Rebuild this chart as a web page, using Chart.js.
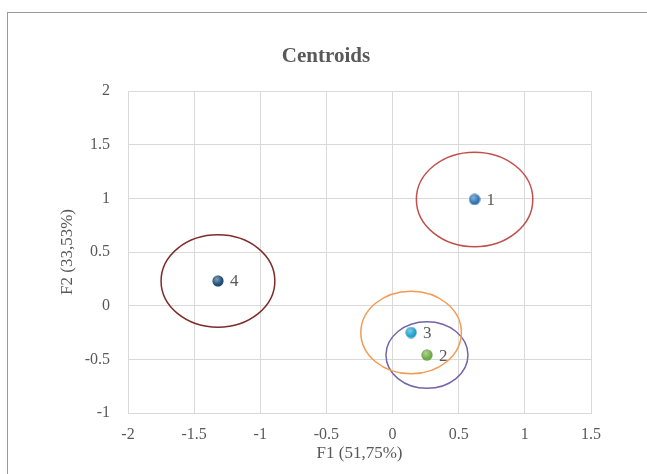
<!DOCTYPE html>
<html>
<head>
<meta charset="utf-8">
<script src="https://cdn.jsdelivr.net/npm/chart.js@4.4.1/dist/chart.umd.min.js"></script>
<style>
  html, body { margin: 0; padding: 0; background: #fff; }
  #wrap { position: relative; width: 647px; height: 474px; }
</style>
</head>
<body>
<div id="wrap"><canvas id="chart" width="647" height="474"></canvas></div>
<script>
// centroids (F1, F2) and their ellipse radii in axis units
const clusterLabels = ['1', '2', '3', '4'];
const f1Values = [0.62, 0.26, 0.14, -1.32];
const f2Values = [0.99, -0.46, -0.25, 0.23];
const radiusF1 = [0.44, 0.31, 0.38, 0.43];
const radiusF2 = [0.44, 0.31, 0.385, 0.43];

const pointColors = ['#2e75b6', '#70ad47', '#1fa3cf', '#1f4e79'];
const ellipseColors = ['#c0504d', '#7464ab', '#f59a52', '#7e2b2b'];

const textColor = '#595959';
const gridColor = '#d9d9d9';
const serif = "'Liberation Serif', 'DejaVu Serif', serif";

// little shaded balls for the points
function makeBall(color) {
  const size = 12;
  const c = document.createElement('canvas');
  c.width = size; c.height = size;
  const g = c.getContext('2d');
  g.beginPath();
  g.arc(size / 2, size / 2, size / 2 - 0.5, 0, Math.PI * 2);
  g.fillStyle = color;
  g.fill();
  const grad = g.createRadialGradient(size * 0.4, size * 0.35, 0, size * 0.4, size * 0.35, size * 0.45);
  grad.addColorStop(0, 'rgba(255,255,255,0.45)');
  grad.addColorStop(1, 'rgba(255,255,255,0)');
  g.fillStyle = grad;
  g.fill();
  g.strokeStyle = 'rgba(0,0,0,0.2)';
  g.lineWidth = 0.6;
  g.stroke();
  return c;
}

const points = clusterLabels.map((lab, i) => ({ x: f1Values[i], y: f2Values[i] }));

const framePlugin = {
  id: 'frame',
  beforeDraw(chart) {
    const ctx = chart.ctx;
    ctx.save();
    ctx.fillStyle = '#fff';
    ctx.fillRect(0, 0, chart.width, chart.height);
    ctx.strokeStyle = '#9a9a9a';
    ctx.lineWidth = 1;
    ctx.strokeRect(7.5, 12.5, chart.width + 20, chart.height + 20);
    // title
    ctx.fillStyle = textColor;
    ctx.font = 'bold 21px ' + serif;
    ctx.textAlign = 'center';
    ctx.textBaseline = 'middle';
    ctx.fillText('Centroids', 326, 57);
    ctx.restore();
  }
};

const ellipsePlugin = {
  id: 'ellipses',
  beforeDatasetsDraw(chart) {
    const ctx = chart.ctx;
    const xs = chart.scales.x, ys = chart.scales.y;
    ctx.save();
    clusterLabels.forEach((lab, i) => {
      const cx = xs.getPixelForValue(f1Values[i]);
      const cy = ys.getPixelForValue(f2Values[i]);
      const rx = Math.abs(xs.getPixelForValue(f1Values[i] + radiusF1[i]) - cx);
      const ry = Math.abs(ys.getPixelForValue(f2Values[i] + radiusF2[i]) - cy);
      ctx.beginPath();
      ctx.ellipse(cx, cy, rx, ry, 0, 0, Math.PI * 2);
      ctx.strokeStyle = ellipseColors[i];
      ctx.lineWidth = 1.5;
      ctx.stroke();
    });
    ctx.restore();
  },
  afterDatasetsDraw(chart) {
    const ctx = chart.ctx;
    const meta = chart.getDatasetMeta(0);
    ctx.save();
    ctx.fillStyle = textColor;
    ctx.font = '17px ' + serif;
    ctx.textAlign = 'left';
    ctx.textBaseline = 'middle';
    meta.data.forEach((pt, i) => {
      ctx.fillText(clusterLabels[i], pt.x + 12, pt.y + 1);
    });
    ctx.restore();
  }
};

const tickFmt = v => String(Number(v.toFixed(2)));

new Chart(document.getElementById('chart'), {
  type: 'scatter',
  data: {
    datasets: [{
      label: 'Centroids',
      data: points,
      pointStyle: pointColors.map(makeBall),
      pointRadius: 6,
      pointHoverRadius: 6
    }]
  },
  options: {
    responsive: false,
    animation: false,
    layout: { padding: { left: 0, top: 91, right: 56, bottom: 0 } },
    plugins: {
      legend: { display: false },
      tooltip: { enabled: false },
      title: { display: false }
    },
    scales: {
      x: {
        type: 'linear',
        min: -2,
        max: 1.5,
        ticks: { stepSize: 0.5, color: textColor, font: { family: serif, size: 16 }, padding: 12, callback: tickFmt },
        grid: { color: gridColor, drawTicks: false },
        border: { color: gridColor },
        title: { display: true, text: 'F1 (51,75%)', color: textColor, font: { family: serif, size: 17 }, padding: { top: 0, bottom: 10 } },
        afterFit(scale) { scale.height = 61; }
      },
      y: {
        type: 'linear',
        min: -1,
        max: 2,
        ticks: { stepSize: 0.5, color: textColor, font: { family: serif, size: 16 }, padding: 18, callback: tickFmt },
        grid: { color: gridColor, drawTicks: false },
        border: { color: gridColor },
        title: { display: true, text: 'F2 (33,53%)', color: textColor, font: { family: serif, size: 17 }, padding: { top: 57, bottom: 0 } },
        afterFit(scale) { scale.width = 128; }
      }
    }
  },
  plugins: [framePlugin, ellipsePlugin]
});
</script>
</body>
</html>
